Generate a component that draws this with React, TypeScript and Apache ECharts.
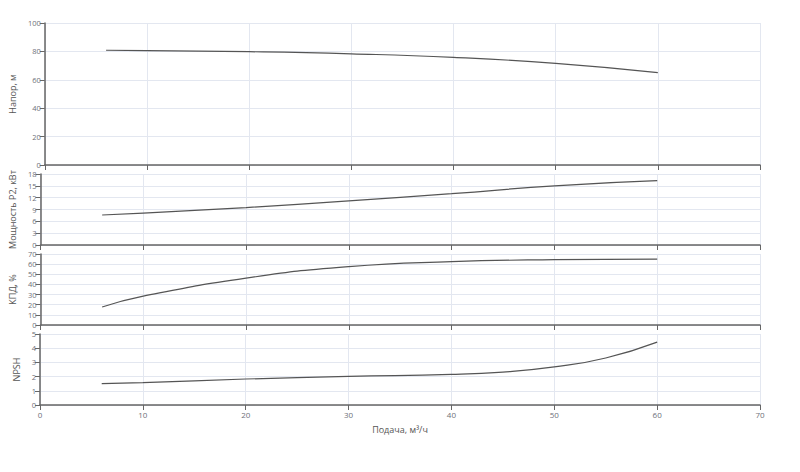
import React, { useEffect, useRef } from 'react';
import * as echarts from 'echarts';

// подача, м³/ч
const flow = [6, 10, 20, 30, 40, 50, 60];
const head = [80.8, 80.5, 79.8, 78.3, 75.8, 71.6, 65.1];
const power = [7.6, 8.1, 9.5, 11.2, 13.0, 15.0, 16.3];
const efficiency = [17.8, 28.4, 46.2, 57.5, 62.4, 64.4, 65.0];
const npshFlow = [6, 10, 20, 30, 40, 45, 50, 55, 60];
const npsh = [1.5, 1.57, 1.83, 2.01, 2.15, 2.32, 2.68, 3.31, 4.43];

const xTicks = [0, 10, 20, 30, 40, 50, 60, 70];
const axisNames = ['Напор, м', 'Мощность P2, кВт', 'КПД, %', 'NPSH'];
const yRanges = [
  { max: 100, interval: 20 },
  { max: 18, interval: 3 },
  { max: 70, interval: 10 },
  { max: 5, interval: 1 },
];

const App = () => {
  const chartRef = useRef(null);

  useEffect(() => {
    document.body.style.margin = '0';
    const myChart = echarts.init(chartRef.current, null, { renderer: 'svg' });

    const grids = [
      { left: 40, right: 40, top: 23, height: 142 },
      { left: 40, right: 40, top: 174, height: 71 },
      { left: 40, right: 40, top: 254, height: 71 },
      { left: 40, right: 40, top: 334, height: 71 },
    ];

    const axisLine = { show: true, lineStyle: { color: '#666', width: 1.5 } };
    const splitLine = { show: true, lineStyle: { color: '#e3e7f0', width: 1 } };
    const labelStyle = { color: '#6E7079', fontSize: 7.5, lineHeight: 7, fontFamily: 'Open Sans' };

    const xAxis = grids.map((_, i) => ({
      type: 'value',
      gridIndex: i,
      min: xTicks[0],
      max: xTicks[xTicks.length - 1],
      interval: 10,
      axisLine,
      axisTick: { show: true, lineStyle: { color: '#666' } },
      splitLine,
      axisLabel: { show: i === 3, ...labelStyle, fontSize: 8, margin: 6 },
      name: i === 3 ? 'Подача, м³/ч' : '',
      nameLocation: 'middle',
      nameGap: 20,
      nameTextStyle: { color: '#555', fontSize: 9, fontFamily: 'Open Sans' },
    }));

    const yAxis = grids.map((_, i) => ({
      type: 'value',
      gridIndex: i,
      min: 0,
      max: yRanges[i].max,
      interval: yRanges[i].interval,
      axisLine,
      axisTick: { show: true, lineStyle: { color: '#666' } },
      splitLine,
      axisLabel: { ...labelStyle, margin: 4 },
      name: axisNames[i],
      nameLocation: 'middle',
      nameGap: 16,
      nameTextStyle: { color: '#555', fontSize: 9, fontFamily: 'Open Sans' },
    }));

    const lineSeries = (i, xs, ys) => ({
      type: 'line',
      xAxisIndex: i,
      yAxisIndex: i,
      data: xs.map((x, k) => [x, ys[k]]),
      smooth: true,
      showSymbol: false,
      lineStyle: { color: '#555', width: 1.2 },
    });

    const option = {
      animation: false,
      grid: grids,
      xAxis,
      yAxis,
      series: [
        lineSeries(0, flow, head),
        lineSeries(1, flow, power),
        lineSeries(2, flow, efficiency),
        lineSeries(3, npshFlow, npsh),
      ],
    };

    myChart.setOption(option);

    return () => {
      myChart.dispose();
    };
  }, []);

  return <div ref={chartRef} style={{ width: '800px', height: '472px' }} />;
};

export default App;
